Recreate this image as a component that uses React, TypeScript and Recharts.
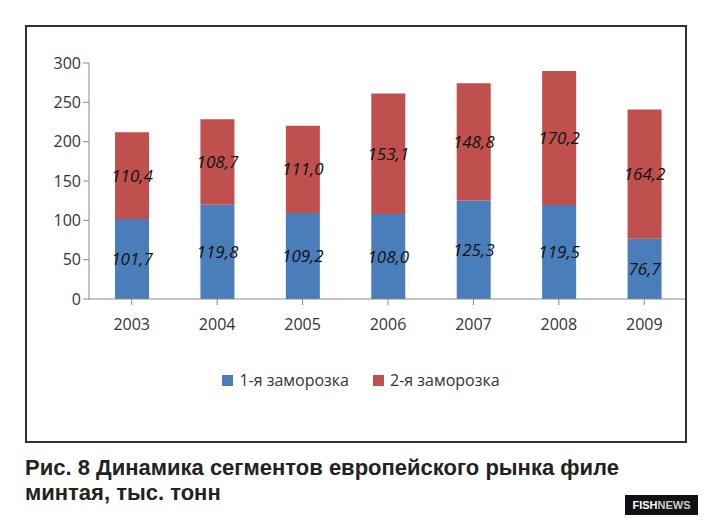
import React from 'react'
import { BarChart, Bar, XAxis, YAxis, CartesianGrid, Legend, LabelList } from 'recharts'

const years = ['2003', '2004', '2005', '2006', '2007', '2008', '2009']
const firstFreeze = [101.7, 119.8, 109.2, 108.0, 125.3, 119.5, 76.7]
const secondFreeze = [110.4, 108.7, 111.0, 153.1, 148.8, 170.2, 164.2]
const yTicks = [0, 50, 100, 150, 200, 250, 300]

const data = years.map((year, i) => ({ year, first: firstFreeze[i], second: secondFreeze[i] }))

const fmt = (v: any) => Number(v).toFixed(1).replace('.', ',')

const labelStyle = { fill: '#111', fontSize: 17, fontStyle: 'italic', fontFamily: 'Open Sans, sans-serif' }

export default function App() {
  return (
    <div style={{ position: 'absolute', left: 0, top: 0, width: 709, height: 525, background: '#fff', fontFamily: 'Open Sans, sans-serif' }}>
      <div style={{ position: 'absolute', left: 25, top: 25, width: 658, height: 414, border: '2px solid #333' }}>
        <BarChart width={658} height={414} data={data} barSize={34} margin={{ top: 36, right: -2, left: 22, bottom: 88 }}>
          <CartesianGrid vertical={false} horizontal={false} />
          <XAxis dataKey="year" height={30} tickLine={{ stroke: '#888' }} axisLine={{ stroke: '#888' }} tick={{ fill: '#333', fontSize: 16 }} tickMargin={14} />
          <YAxis domain={[0, 300]} ticks={yTicks} width={40} tickLine={{ stroke: '#888' }} axisLine={{ stroke: '#888' }} tick={{ fill: '#333', fontSize: 16 }} />
          <Legend
            layout="horizontal"
            verticalAlign="bottom"
            height={24}
            wrapperStyle={{ top: 342, left: 0, width: 658, height: 24 }}
            content={(props: any) => (
              <div style={{ display: 'flex', justifyContent: 'center', gap: 24, paddingLeft: 10 }}>
                {(props.payload || []).map((p: any) => (
                  <span key={p.value} style={{ display: 'flex', alignItems: 'center', gap: 6, color: '#333', fontSize: 16 }}>
                    <span style={{ width: 11, height: 11, background: p.color, display: 'inline-block' }} />
                    {p.value}
                  </span>
                ))}
              </div>
            )}
          />
          <Bar dataKey="first" name="1-я заморозка" stackId="a" fill="#4a7ebb" isAnimationActive={false}>
            <LabelList dataKey="first" position="center" formatter={fmt} style={labelStyle} />
          </Bar>
          <Bar dataKey="second" name="2-я заморозка" stackId="a" fill="#c0504d" isAnimationActive={false}>
            <LabelList dataKey="second" position="center" formatter={fmt} style={labelStyle} />
          </Bar>
        </BarChart>
      </div>
      <div style={{ position: 'absolute', left: 25, top: 455, fontFamily: 'Liberation Sans, Arial, sans-serif', fontWeight: 'bold', fontSize: 22, lineHeight: '25px', color: '#222' }}>
        Рис. 8 Динамика сегментов европейского рынка филе<br />минтая, тыс. тонн
      </div>
      <div style={{ position: 'absolute', left: 625, top: 495, width: 73, height: 20, background: '#111', color: '#fff', fontFamily: 'Liberation Sans, Arial, sans-serif', fontWeight: 'bold', fontSize: 11, lineHeight: '20px', textAlign: 'center' }}>
        FISH<span style={{ color: '#ccc' }}>NEWS</span>
      </div>
    </div>
  )
}
